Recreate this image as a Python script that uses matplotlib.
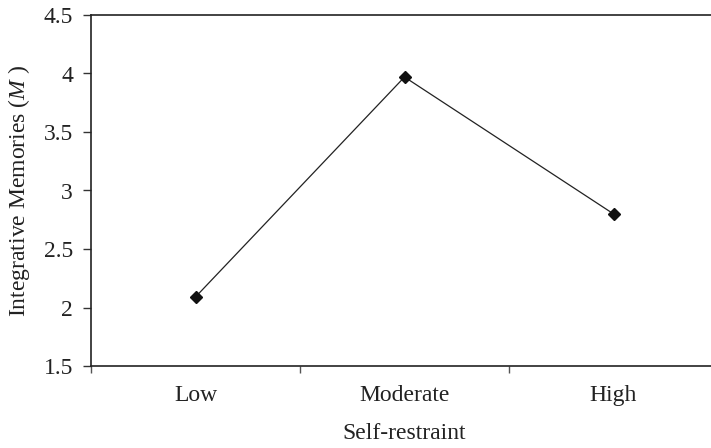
import matplotlib.pyplot as plt

plt.rcParams['font.family'] = ['Liberation Serif', 'DejaVu Serif']
plt.rcParams['mathtext.fontset'] = 'custom'
plt.rcParams['mathtext.it'] = 'Liberation Serif:italic'
plt.rcParams['mathtext.rm'] = 'Liberation Serif'

categories = ['Low', 'Moderate', 'High']
means = [2.09, 3.97, 2.80]
y_ticks = [1.5, 2, 2.5, 3, 3.5, 4, 4.5]
y_labels = ['1.5', '2', '2.5', '3', '3.5', '4', '4.5']

fs = 17

fig = plt.figure(figsize=(7.11, 4.48), dpi=100)
# axes runs a little past the right edge, as in the original
ax = fig.add_axes([91 / 711, 82 / 448, 627 / 711, 351 / 448])

x = list(range(len(categories)))
ax.plot(x, means, color='#222222', linewidth=0.9, marker='D',
        markersize=6, markerfacecolor='#111111', markeredgecolor='#111111')

ax.set_xlim(-0.5, len(categories) - 0.5)
ax.set_ylim(1.5, 4.5)
ax.set_yticks(y_ticks)
ax.set_yticklabels(y_labels)

# category boundaries carry the tick marks, labels sit between them
ax.set_xticks([i - 0.5 for i in range(len(categories) + 1)])
ax.set_xticklabels([])
ax.set_xticks(x, minor=True)
ax.set_xticklabels(categories, minor=True)
ax.tick_params(axis='x', which='major', direction='out', length=5, width=1, color='#555555')
ax.tick_params(axis='x', which='minor', length=0, pad=14, labelsize=fs, labelcolor='#222222')
ax.tick_params(axis='y', direction='out', length=6, width=1, pad=7, labelsize=fs,
               labelcolor='#222222', color='#333333')

for side in ['left', 'bottom', 'top']:
    ax.spines[side].set_linewidth(1.2)
    ax.spines[side].set_color('#222222')
ax.spines['right'].set_visible(False)

ax.set_xlabel('Self-restraint', fontsize=fs, color='#222222', labelpad=12)
ax.set_ylabel(r'Integrative Memories ($M$ )', fontsize=fs, color='#222222', labelpad=8)

fig.savefig('out.png', dpi=100)
